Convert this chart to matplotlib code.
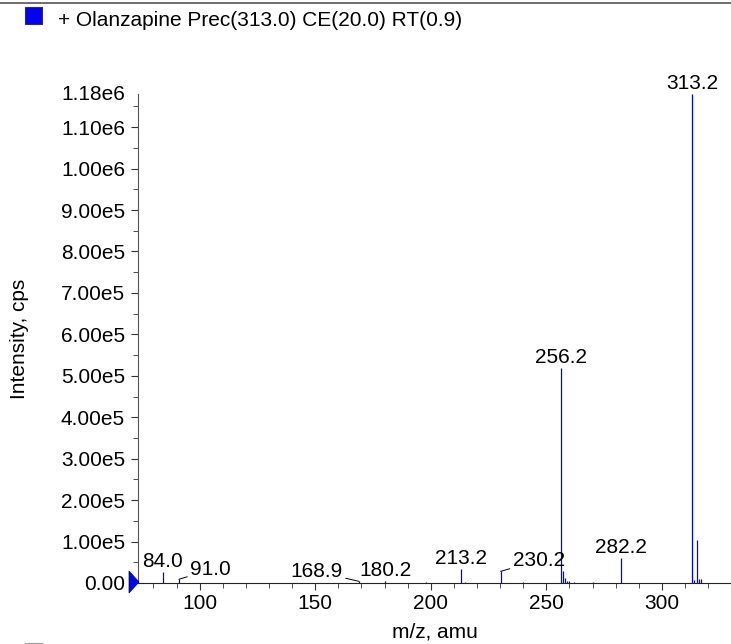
import numpy as np
import matplotlib.pyplot as plt
from matplotlib.patches import Polygon, Rectangle
from matplotlib.lines import Line2D
from matplotlib.ticker import MultipleLocator, FuncFormatter

plt.rcParams['font.family'] = ['Liberation Sans', 'DejaVu Sans']

# spectrum peaks (m/z, intensity in cps)
mz = [84.0, 91.0, 168.9, 180.2, 198.0, 213.2, 215.0, 230.2, 240.0,
      256.2, 257.2, 258.2, 259.0, 260.0, 262.0, 270.0, 282.2,
      313.2, 314.0, 315.0, 316.0, 317.0]
intensity = [2.7e4, 9e3, 4e3, 5e3, 2e3, 3.35e4, 2e3, 2.8e4, 3e3,
             5.18e5, 2.8e4, 1.1e4, 6e3, 4e3, 2e3, 3e3, 6.07e4,
             1.18e6, 7e3, 1.03e5, 1.0e4, 1.0e4]

# labelled peaks: (m/z, text, placement)
labels = [(84.0, "84.0", "top"), (91.0, "91.0", "right"),
          (168.9, "168.9", "left"), (180.2, "180.2", "top"),
          (213.2, "213.2", "top"), (230.2, "230.2", "right"),
          (256.2, "256.2", "top"), (282.2, "282.2", "top"),
          (313.2, "313.2", "top")]

title = "+ Olanzapine Prec(313.0) CE(20.0) RT(0.9)"
xmin, xmax = 73.3, 329.9
ymax = 1.18e6
fs = 15

fig = plt.figure(figsize=(7.31, 6.44), dpi=100)
ax = fig.add_axes([138/731, 1-583/644, 1-138/731, (583-94)/644])

ax.vlines(mz, 0, intensity, color='#0000ff', linewidth=0.9)
ax.set_xlim(xmin, xmax)
ax.set_ylim(0, ymax)

peak = dict(zip(mz, intensity))
line = dict(arrowstyle='-', lw=0.7, color='black', shrinkA=0, shrinkB=0)
for m, t, pos in labels:
    y = peak[m]
    if pos == "top":
        ax.annotate(t, (m, y), xytext=(0, 3.5), textcoords='offset points',
                    ha='center', va='baseline', fontsize=fs)
    elif pos == "right":
        off = (8.6, 8) if m > 200 else (8, 6.8)
        ax.annotate(t, (m, y), xytext=off, textcoords='offset points',
                    ha='left', va='center', fontsize=fs, arrowprops=line)
    else:
        ax.annotate(t, (m, y), xytext=(-11.5, 7), textcoords='offset points',
                    ha='right', va='center', fontsize=fs, arrowprops=line)

for s in ['top', 'right']:
    ax.spines[s].set_visible(False)
ax.spines['left'].set_color('#555555')
ax.spines['bottom'].set_color('#222222')

ax.xaxis.set_major_locator(MultipleLocator(50))
ax.xaxis.set_minor_locator(MultipleLocator(10))
ax.yaxis.set_minor_locator(MultipleLocator(5e4))


def fmt(v, pos):
    if v == 0:
        return "0.00"
    e = int(np.floor(np.log10(abs(v)) + 1e-9))
    return "%.2fe%d" % (v / 10**e, e)


ax.yaxis.set_major_formatter(FuncFormatter(fmt))
ax.set_yticks([v for v in np.arange(0, 1.15e6, 1e5)])
ax.tick_params(axis='both', which='major', length=5, labelsize=fs, colors='#333333',
               labelcolor='black')
ax.tick_params(axis='y', which='major', pad=4.3)
ax.tick_params(axis='x', which='major', pad=3)
ax.tick_params(axis='both', which='minor', length=3.5, colors='#333333')
ax.text(-13/593, 1.0, fmt(ymax, 0), transform=ax.transAxes, ha='right',
        va='center', fontsize=fs)

ax.set_xlabel("m/z, amu", fontsize=fs)
ax.set_ylabel("Intensity, cps", fontsize=fs)
ax.xaxis.set_label_coords(0.5, -40/489)
ax.yaxis.set_label_coords(-109/593, 0.5)

# header
fig.add_artist(Line2D([0, 1], [1-2.5/644, 1-2.5/644], color='#555555', lw=1.2))
fig.patches.append(Rectangle((25/731, 1-24/644), 17/731, 17/644, transform=fig.transFigure,
                             facecolor='#0000ff', edgecolor='#333333', lw=0.8))
fig.text(58/731, 1-20/644, title, fontsize=fs, va='center', ha='left')
fig.patches.append(Rectangle((25/731, 1-660/644), 17/731, 17/644, transform=fig.transFigure,
                             facecolor='white', edgecolor='#999999', lw=0.8))

# zero marker on the y axis
fig.patches.append(Polygon([(129/731, 1-571/644), (139/731, 1-582/644), (129/731, 1-593/644)],
                           closed=True, transform=fig.transFigure,
                           facecolor='#0000ff', edgecolor='#000080', lw=0.5))

fig.savefig("out.png", dpi=100)
